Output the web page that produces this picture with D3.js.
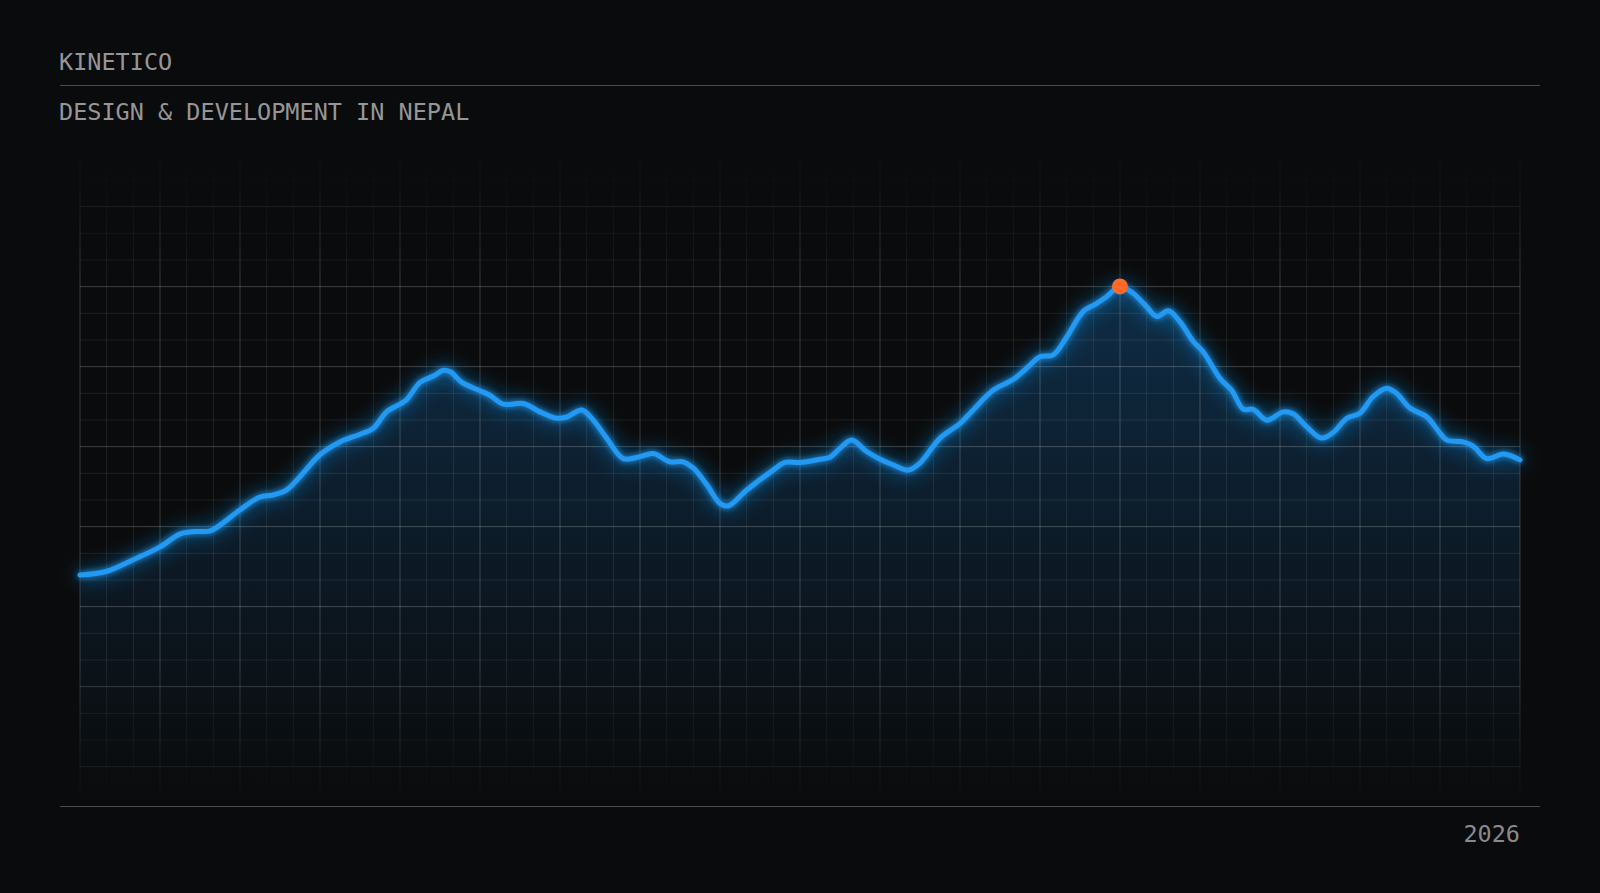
<!DOCTYPE html>
<html>
<head>
<meta charset="utf-8">
<script src="https://cdn.jsdelivr.net/npm/d3@7"></script>
<style>
  html, body { margin: 0; padding: 0; background: #0a0b0c; }
  svg { display: block; }
</style>
</head>
<body>
<div id="chart"></div>
<script>
// day of year for each sample
var days = [0, 6.8, 13.5, 20.3, 25.3, 29.1, 33.0, 35.5, 40.6, 45.6, 48.9, 52.4, 55.8, 60.8, 65.9, 71.0, 74.3, 77.7,
    81.1, 82.8, 86.2, 89.6, 92.1, 93.8, 96.8, 101.4, 103.9, 107.3, 112.4, 116.6, 120.8, 123.4, 127.2, 130.1, 133.5,
    137.7, 141.9, 145.3, 149.5, 152.9, 155.5, 158.9, 162.2, 164.3, 169.0, 175.7, 178.7, 182.5, 187.6, 190.1, 192.6,
    195.6, 199.4, 202.8, 206.2, 210.0, 212.9, 218.0, 223.1, 226.4, 231.5, 236.6, 240.8, 243.3, 246.7, 250.1, 254.3,
    257.3, 260.2, 263.6, 267.0, 270.4, 272.9, 275.9, 278.8, 282.2, 284.7, 289.0, 291.9, 294.9, 297.4, 300.8, 305.0,
    307.5, 310.9, 314.7, 317.7, 321.1, 324.4, 327.8, 331.2, 333.7, 337.1, 341.4, 344.7, 346.4, 350.6, 353.2, 356.6,
    360.8, 365];

// index value for each sample
var values = [34.1, 34.7, 36.5, 38.5, 40.5, 40.9, 41.0, 41.9, 44.3, 46.3, 46.6, 47.4, 49.5, 52.9, 54.9, 56.1, 57.0, 59.6,
    60.8, 61.5, 64.2, 65.2, 66.1, 65.9, 64.2, 62.9, 62.2, 60.8, 60.9, 59.6, 58.6, 58.8, 59.9, 58.3, 55.5,
    52.3, 52.6, 53.1, 51.8, 51.8, 50.8, 48.2, 45.3, 44.9, 47.4, 50.5, 51.7, 51.7, 52.2, 52.5, 53.9,
    55.2, 53.4, 52.2, 51.3, 50.5, 51.6, 55.5, 57.8, 59.9, 63.0, 64.7, 66.9, 68.2, 68.5, 71.3, 75.3,
    76.4, 77.6, 79.2, 78.1, 76.0, 74.5, 75.4, 73.7, 70.6, 69.0, 64.8, 63.0, 60.0, 60.0, 58.3, 59.6,
    59.3, 57.3, 55.5, 56.4, 58.6, 59.4, 62.0, 63.3, 62.5, 60.2, 58.8, 56.3, 55.2, 54.9, 54.2, 52.3,
    53.0, 52.1];

var title = 'KINETICO';
var subtitle = 'DESIGN & DEVELOPMENT IN NEPAL';
var yearLabel = '2026';

var width = 1600;
var height = 893;

var svg = d3.select('#chart').append('svg')
    .attr('width', width)
    .attr('height', height);

svg.append('rect')
    .attr('width', width)
    .attr('height', height)
    .attr('fill', '#0a0b0c');

var defs = svg.append('defs');

// fade the grid out at the top and bottom
var fade = defs.append('linearGradient')
    .attr('id', 'gridFade')
    .attr('gradientUnits', 'userSpaceOnUse')
    .attr('x1', 0).attr('x2', 0)
    .attr('y1', 140).attr('y2', 808);
fade.append('stop').attr('offset', 0).attr('stop-color', '#fff').attr('stop-opacity', 0);
fade.append('stop').attr('offset', 0.1).attr('stop-color', '#fff').attr('stop-opacity', 0.35);
fade.append('stop').attr('offset', 0.22).attr('stop-color', '#fff').attr('stop-opacity', 1);
fade.append('stop').attr('offset', 0.78).attr('stop-color', '#fff').attr('stop-opacity', 1);
fade.append('stop').attr('offset', 1).attr('stop-color', '#fff').attr('stop-opacity', 0);

defs.append('mask')
    .attr('id', 'gridMask')
    .append('rect')
    .attr('x', 0).attr('y', 0)
    .attr('width', width).attr('height', height)
    .attr('fill', 'url(#gridFade)');

var areaGrad = defs.append('linearGradient')
    .attr('id', 'areaGrad')
    .attr('gradientUnits', 'userSpaceOnUse')
    .attr('x1', 0).attr('x2', 0)
    .attr('y1', 280).attr('y2', 800);
areaGrad.append('stop').attr('offset', 0).attr('stop-color', '#1a86e0').attr('stop-opacity', 0.28);
areaGrad.append('stop').attr('offset', 0.55).attr('stop-color', '#1a78cc').attr('stop-opacity', 0.13);
areaGrad.append('stop').attr('offset', 1).attr('stop-color', '#1a6ab8').attr('stop-opacity', 0);

var glow = defs.append('filter')
    .attr('id', 'glow')
    .attr('x', '-5%').attr('y', '-30%')
    .attr('width', '110%').attr('height', '160%');
glow.append('feGaussianBlur').attr('in', 'SourceGraphic').attr('stdDeviation', 10).attr('result', 'wide');
glow.append('feGaussianBlur').attr('in', 'SourceGraphic').attr('stdDeviation', 3).attr('result', 'tight');
var merge = glow.append('feMerge');
merge.append('feMergeNode').attr('in', 'wide');
merge.append('feMergeNode').attr('in', 'tight');
merge.append('feMergeNode').attr('in', 'SourceGraphic');

// SCALES
var plotLeft = 80, plotRight = 1520;
var plotTop = 153.3, plotBottom = 793.3;

var x = d3.scaleLinear().domain([0, 365]).range([plotLeft, plotRight]);
var y = d3.scaleLinear().domain([0, 100]).range([plotBottom, plotTop]);

// grid: 54 columns x 24 rows, every third line brighter
var gx = d3.scaleLinear().domain([0, 54]).range([plotLeft, plotRight]);
var gy = d3.scaleLinear().domain([0, 24]).range([plotBottom, plotTop]);

// AREA
var data = days.map(function(d, i){ return { day: d, value: values[i] }; });

var area = d3.area()
    .x(function(d){ return x(d.day); })
    .y0(plotBottom + 8)
    .y1(function(d){ return y(d.value); })
    .curve(d3.curveCatmullRom.alpha(0.5));

svg.append('path')
    .datum(data)
    .attr('d', area)
    .attr('fill', 'url(#areaGrad)');

// GRID
var grid = svg.append('g').attr('mask', 'url(#gridMask)');

grid.selectAll('line.v')
    .data(d3.range(0, 55))
    .enter().append('line')
    .attr('class', 'v')
    .attr('x1', function(d){ return gx(d); })
    .attr('x2', function(d){ return gx(d); })
    .attr('y1', 145)
    .attr('y2', 802)
    .attr('stroke', '#fff')
    .attr('stroke-opacity', function(d){ return d % 3 === 0 ? 0.2 : 0.09; })
    .attr('stroke-width', 1);

grid.selectAll('line.h')
    .data(d3.range(0, 25))
    .enter().append('line')
    .attr('class', 'h')
    .attr('x1', plotLeft)
    .attr('x2', plotRight)
    .attr('y1', function(d){ return gy(d); })
    .attr('y2', function(d){ return gy(d); })
    .attr('stroke', '#fff')
    .attr('stroke-opacity', function(d){ return d % 3 === 1 ? 0.22 : 0.09; })
    .attr('stroke-width', 1);

// LINE
var line = d3.line()
    .x(function(d){ return x(d.day); })
    .y(function(d){ return y(d.value); })
    .curve(d3.curveCatmullRom.alpha(0.5));

svg.append('path')
    .datum(data)
    .attr('d', line)
    .attr('fill', 'none')
    .attr('stroke', '#2199f2')
    .attr('stroke-width', 5)
    .attr('stroke-linejoin', 'round')
    .attr('stroke-linecap', 'round')
    .attr('filter', 'url(#glow)');

// PEAK MARKER
var peak = data[d3.maxIndex(values)];
svg.append('circle')
    .attr('cx', x(peak.day))
    .attr('cy', y(peak.value))
    .attr('r', 8)
    .attr('fill', '#ff6a2a');

// RULES
svg.append('line')
    .attr('x1', 60).attr('x2', 1540)
    .attr('y1', 85.5).attr('y2', 85.5)
    .attr('stroke', '#4a4b4c')
    .attr('stroke-width', 1.2);

svg.append('line')
    .attr('x1', 60).attr('x2', 1540)
    .attr('y1', 806.5).attr('y2', 806.5)
    .attr('stroke', '#4a4b4c')
    .attr('stroke-width', 1.2);

// TEXT
svg.append('text')
    .attr('x', 59)
    .attr('y', 69.5)
    .attr('font-family', 'DejaVu Sans Mono')
    .attr('font-size', '23.5px')
    .attr('fill', '#969696')
    .text(title);

svg.append('text')
    .attr('x', 59)
    .attr('y', 120)
    .attr('font-family', 'DejaVu Sans Mono')
    .attr('font-size', '23.5px')
    .attr('fill', '#969696')
    .text(subtitle);

svg.append('text')
    .attr('x', 1520)
    .attr('y', 842)
    .attr('text-anchor', 'end')
    .attr('font-family', 'DejaVu Sans Mono')
    .attr('font-size', '23.5px')
    .attr('fill', '#8a8a8a')
    .text(yearLabel);
</script>
</body>
</html>
